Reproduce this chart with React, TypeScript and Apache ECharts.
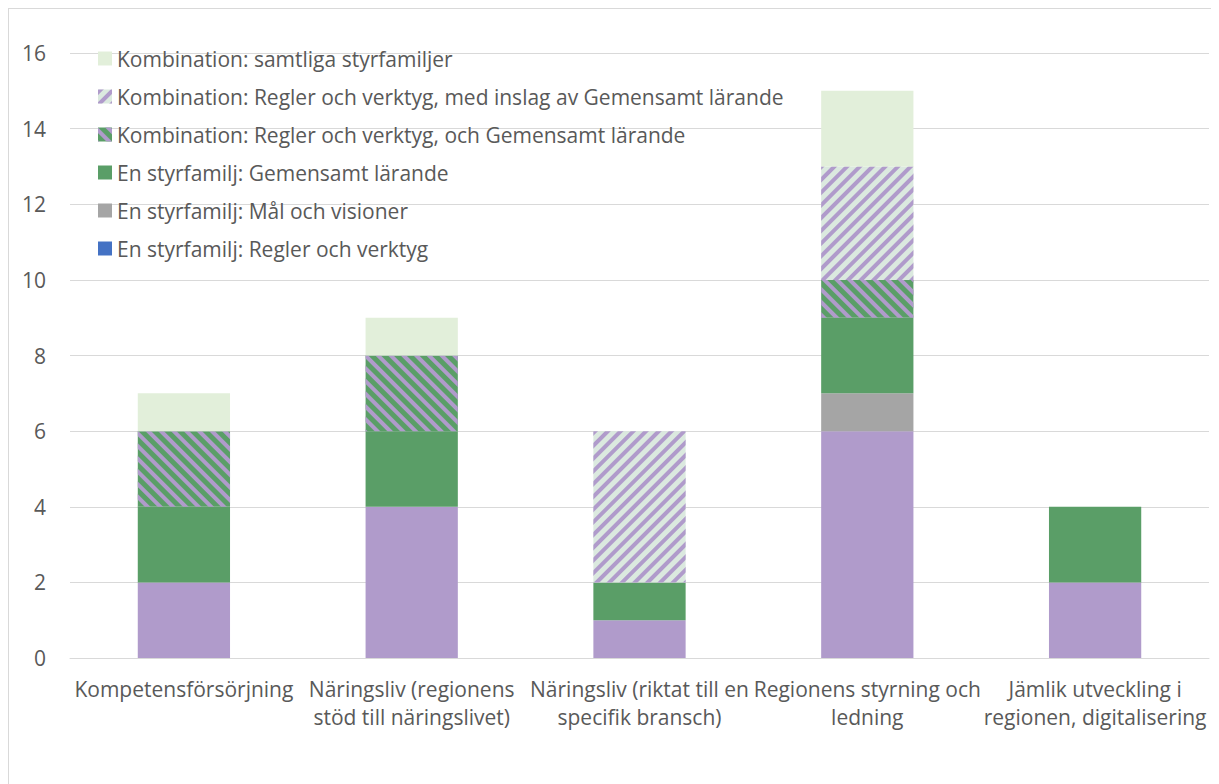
import React, { useEffect, useRef } from "react";
import * as echarts from "echarts";

const categories = [
  "Kompetensförsörjning",
  "Näringsliv (regionens\nstöd till näringslivet)",
  "Näringsliv (riktat till en\nspecifik bransch)",
  "Regionens styrning och\nledning",
  "Jämlik utveckling i\nregionen, digitalisering",
];

const seriesNames = [
  "En styrfamilj: Regler och verktyg",
  "En styrfamilj: Mål och visioner",
  "En styrfamilj: Gemensamt lärande",
  "Kombination: Regler och verktyg, och Gemensamt lärande",
  "Kombination: Regler och verktyg, med inslag av Gemensamt lärande",
  "Kombination: samtliga styrfamiljer",
];

const reglerVerktyg = [2, 4, 1, 6, 2];
const malVisioner = [0, 0, 0, 1, 0];
const gemensamtLarande = [2, 2, 1, 2, 2];
const kombOch = [2, 2, 0, 1, 0];
const kombInslag = [0, 0, 4, 3, 0];
const samtliga = [1, 1, 0, 2, 0];

const PURPLE = "#b09bcb";
const GREEN = "#5a9e67";
const LIGHTGREEN = "#e2efda";
const GRAY = "#a5a5a5";
const BLUE = "#4472c4";
const PALE = "#dbe9df";

export default function App() {
  const ref = useRef<HTMLDivElement>(null);
  useEffect(() => {
    if (!ref.current) return;
    const chart = echarts.init(ref.current, undefined, { renderer: "svg" });
    const font = "'Open Sans', 'Noto Sans', sans-serif";
    const stripe = (rot: number) => ({
      symbol: "rect",
      color: PURPLE,
      dashArrayX: [1, 0],
      dashArrayY: [4, 5],
      rotation: rot,
    });
    const values = [reglerVerktyg, malVisioner, gemensamtLarande, kombOch, kombInslag, samtliga];
    const colors = [PURPLE, GRAY, GREEN, GREEN, PALE, LIGHTGREEN];
    const series: any[] = seriesNames.map((name, i) => {
      const s: any = {
        name,
        type: "bar",
        stack: "total",
        barWidth: "40.5%",
        data: values[i].map((v) => (v === 0 ? null : v)),
        itemStyle: { color: colors[i] },
      };
      if (i === 3) s.itemStyle.decal = stripe(Math.PI / 4);
      if (i === 4) s.itemStyle.decal = stripe(-Math.PI / 4);
      return s;
    });
    const legendData: any[] = [...seriesNames].reverse().map((n) =>
      n === seriesNames[0] ? { name: n, itemStyle: { color: BLUE } } : { name: n }
    );
    chart.setOption({
      animation: false,
      aria: { enabled: false },
      grid: { left: 61, right: 8, top: 44, bottom: 126 },
      legend: {
        data: legendData,
        orient: "vertical",
        left: 84,
        top: 34,
        itemWidth: 14,
        itemHeight: 14,
        itemGap: 17,
        icon: "rect",
        textStyle: { fontFamily: font, fontSize: 21, color: "#595959" },
        itemStyle: { borderWidth: 0 },
      },
      xAxis: {
        type: "category",
        data: categories,
        axisLine: { lineStyle: { color: "#d9d9d9" } },
        axisTick: { show: false },
        axisLabel: {
          interval: 0,
          fontFamily: font,
          fontSize: 21,
          color: "#595959",
          lineHeight: 28,
          margin: 17,
        },
      },
      yAxis: {
        type: "value",
        min: 0,
        max: 16,
        interval: 2,
        axisLine: { show: false },
        axisTick: { show: false },
        splitLine: { lineStyle: { color: "#d9d9d9" } },
        axisLabel: { fontFamily: font, fontSize: 21, color: "#595959", margin: 24 },
      },
      series,
    });
    return () => chart.dispose();
  }, []);
  return (
    <div
      ref={ref}
      style={{
        width: 1210,
        height: 776,
        boxSizing: "border-box",
        borderTop: "1px solid #d9d9d9",
        borderLeft: "1px solid #d9d9d9",
        borderRight: "1px solid #d9d9d9",
      }}
    />
  );
}
